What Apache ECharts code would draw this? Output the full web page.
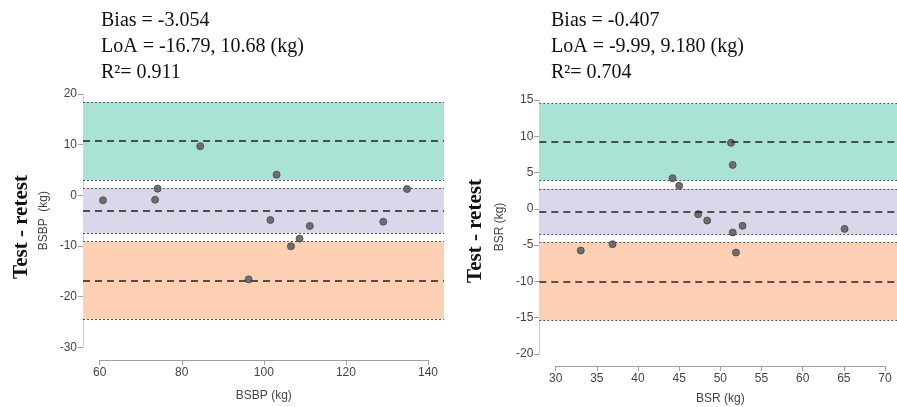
<!DOCTYPE html>
<html><head><meta charset="utf-8">
<script src="https://cdn.jsdelivr.net/npm/echarts@6/dist/echarts.min.js"></script>
<style>html,body{margin:0;padding:0;background:#fff}#c{width:897px;height:407px}</style>
</head><body><div id="c"></div>
<script>
// Left panel (BSBP)
const leftX = [60.8, 73.5, 74.1, 84.5, 96.3, 101.6, 103.1, 106.6, 108.7, 111.2, 129.1, 134.9];
const leftY = [-0.99, -0.86, 1.32, 9.7, -16.6, -4.87, 4.08, -10.07, -8.55, -6.05, -5.2, 1.25];
const leftLines = [10.68, -3.054, -16.79];
const leftBands = [[3.0, 18.4], [-7.5, 1.44], [-24.4, -9.1]];
const leftXTicks = [60, 80, 100, 120, 140];
const leftYTicks = [-30, -20, -10, 0, 10, 20];
const leftText = ['Bias = -3.054', 'LoA = -16.79, 10.68 (kg)', 'R\u00B2= 0.911'];
// Right panel (BSR)
const rightX = [33.04, 36.9, 44.2, 45.0, 47.3, 48.4, 51.3, 51.5, 51.5, 51.9, 52.7, 65.1];
const rightY = [-5.74, -4.87, 4.23, 3.17, -0.73, -1.61, 9.1, 6.06, -3.26, -6.02, -2.34, -2.76];
const rightLines = [9.18, -0.407, -9.99];
const rightBands = [[3.9, 14.5], [-3.49, 2.76], [-15.3, -4.59]];
const rightXTicks = [30, 35, 40, 45, 50, 55, 60, 65, 70];
const rightYTicks = [-20, -15, -10, -5, 0, 5, 10, 15];
const rightText = ['Bias = -0.407', 'LoA = -9.99, 9.180 (kg)', 'R\u00B2= 0.704'];

const bandColors = ['#a9e3d5', '#d9d7ea', '#fdd0b4'];
const axisGray = '#a0a0a0';
const labelColor = '#444';

function zip(a, b) { return a.map((v, i) => [v, b[i]]); }

const chart = echarts.init(document.getElementById('c'));

function panel(idx, cfg) {
  const g = idx * 2;
  const grids = [
    {left: cfg.dataLeft, top: cfg.top, width: cfg.dataWidth, height: cfg.height},
    {left: cfg.axLeft, top: cfg.axTop, width: cfg.axWidth, height: 1}
  ];
  const xAxes = [
    {type: 'value', gridIndex: g, min: cfg.dataMin, max: cfg.dataMax, show: false},
    {type: 'value', gridIndex: g + 1, min: cfg.xTicks[0], max: cfg.xTicks[cfg.xTicks.length - 1],
     interval: cfg.xTicks[1] - cfg.xTicks[0], name: cfg.xName, nameLocation: 'middle', nameGap: cfg.xNameGap,
     nameTextStyle: {fontFamily: 'Liberation Sans', fontSize: 12, color: labelColor},
     axisLine: {lineStyle: {color: axisGray}}, axisTick: {length: 5, lineStyle: {color: axisGray}},
     axisLabel: {fontFamily: 'Liberation Sans', fontSize: 12, color: labelColor, margin: 7},
     splitLine: {show: false}}
  ];
  const yAxes = [
    {type: 'value', gridIndex: g, min: cfg.yTicks[0], max: cfg.yTicks[cfg.yTicks.length - 1],
     interval: cfg.yTicks[1] - cfg.yTicks[0], name: cfg.yName, nameLocation: 'middle', nameGap: cfg.yNameGap,
     nameTextStyle: {fontFamily: 'Liberation Sans', fontSize: 12, color: labelColor},
     axisLine: {show: true, lineStyle: {color: '#cfcfcf'}}, axisTick: {show: true, length: 5, lineStyle: {color: axisGray}},
     axisLabel: {fontFamily: 'Liberation Sans', fontSize: 12, color: labelColor, margin: 6},
     splitLine: {show: false}},
    {type: 'value', gridIndex: g + 1, show: false, min: 0, max: 1}
  ];
  const markAreaData = cfg.bands.map((b, i) => [
    {yAxis: b[1], xAxis: cfg.dataMin, itemStyle: {color: bandColors[i]}},
    {yAxis: b[0], xAxis: cfg.dataMax}
  ]);
  const edgeLines = [];
  cfg.bands.forEach(b => { edgeLines.push({yAxis: b[0]}); edgeLines.push({yAxis: b[1]}); });
  const series = [
    {type: 'line', xAxisIndex: g, yAxisIndex: g, data: [], silent: true,
     markArea: {silent: true, data: markAreaData},
     markLine: {silent: true, symbol: 'none', label: {show: false},
       lineStyle: {color: '#555', type: [2, 2], width: 1}, data: edgeLines}},
    {type: 'line', xAxisIndex: g, yAxisIndex: g, data: [], silent: true,
     markLine: {silent: true, symbol: 'none', label: {show: false},
       lineStyle: {color: '#222', type: [7, 5], width: 1.5},
       data: cfg.lines.map(v => ({yAxis: v}))}},
    {type: 'scatter', xAxisIndex: g, yAxisIndex: g, data: zip(cfg.x, cfg.y), symbolSize: 7,
     itemStyle: {color: '#6e6e6e', borderColor: '#444', borderWidth: 0.8, opacity: 1}}
  ];
  return {grids, xAxes, yAxes, series};
}

const L = panel(0, {dataLeft: 83, top: 94, dataWidth: 361, height: 253.3, dataMin: 55.93, dataMax: 143.9,
  axLeft: 99.7, axTop: 359, axWidth: 328.3, xTicks: leftXTicks, yTicks: leftYTicks,
  xName: 'BSBP (kg)', yName: 'BSBP  (kg)', xNameGap: 30, yNameGap: 33,
  bands: leftBands, lines: leftLines, x: leftX, y: leftY});
const R = panel(1, {dataLeft: 539.3, top: 100, dataWidth: 357.7, height: 254, dataMin: 28.0, dataMax: 71.47,
  axLeft: 555.7, axTop: 365, axWidth: 329.3, xTicks: rightXTicks, yTicks: rightYTicks,
  xName: 'BSR (kg)', yName: 'BSR (kg)', xNameGap: 27, yNameGap: 34,
  bands: rightBands, lines: rightLines, x: rightX, y: rightY});

function textBlock(x, lines) {
  return {type: 'text', left: x, top: 8, style: {text: lines.join('\n'), fontFamily: 'Liberation Serif',
    fontSize: 20, lineHeight: 26, fill: '#111'}};
}
function sideLabel(x, y) {
  return {type: 'text', x: x, y: y, rotation: Math.PI / 2, style: {text: 'Test - retest',
    fontFamily: 'Liberation Serif', fontWeight: 'bold', fontSize: 21, fill: '#111',
    textAlign: 'center', textVerticalAlign: 'middle'}};
}

chart.setOption({
  animation: false,
  grid: L.grids.concat(R.grids),
  xAxis: L.xAxes.concat(R.xAxes),
  yAxis: L.yAxes.concat(R.yAxes),
  series: L.series.concat(R.series),
  graphic: [textBlock(101, leftText), textBlock(551, rightText), sideLabel(21.5, 227), sideLabel(475.5, 231)]
});
</script></body></html>
